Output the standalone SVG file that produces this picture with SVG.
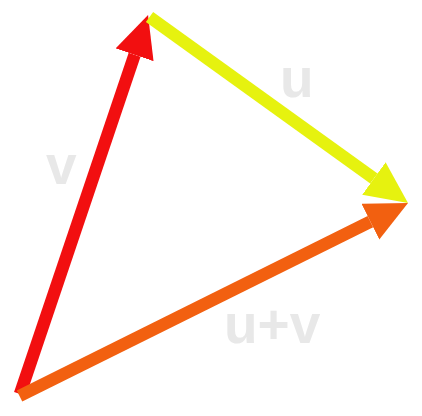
<svg xmlns="http://www.w3.org/2000/svg" width="422" height="416" viewBox="0 0 422 416">
<style>
.lbl{font-family:"Liberation Sans",Arial,sans-serif;font-weight:bold;font-size:55px;fill:#e8e8e8}
.vec{fill:none;stroke-width:12.5;stroke-linecap:butt}
</style>
<defs>
<marker id="hr" markerUnits="userSpaceOnUse" viewBox="0 -20 42 40" markerWidth="42" markerHeight="40" refX="0" refY="0" orient="auto"><path d="M0,-20 L42,0 L0,20 z" fill="#f20f10"/></marker>
<marker id="hy" markerUnits="userSpaceOnUse" viewBox="0 -20 42 40" markerWidth="42" markerHeight="40" refX="0" refY="0" orient="auto"><path d="M0,-20 L42,0 L0,20 z" fill="#e6f20f"/></marker>
<marker id="ho" markerUnits="userSpaceOnUse" viewBox="0 -20 42 40" markerWidth="42" markerHeight="40" refX="0" refY="0" orient="auto"><path d="M0,-20 L42,0 L0,20 z" fill="#f26010"/></marker>
</defs>
<g id="labels">
<text id="label-v" class="lbl" x="46" y="184">v</text>
<text id="label-u" class="lbl" x="280" y="97">u</text>
<text id="label-uv" class="lbl" x="224" y="343">u+v</text>
</g>
<g id="connectors">
<line id="vec-v" class="vec" x1="20" y1="394" x2="134.6" y2="54.8" stroke="#f20f10" marker-end="url(#hr)"/>
<line id="vec-u" class="vec" x1="149.5" y1="17" x2="373.9" y2="178.5" stroke="#e6f20f" marker-end="url(#hy)"/>
<line id="vec-uv" class="vec" x1="19.5" y1="396" x2="370.4" y2="221.7" stroke="#f26010" marker-end="url(#ho)"/>
</g>
</svg>
